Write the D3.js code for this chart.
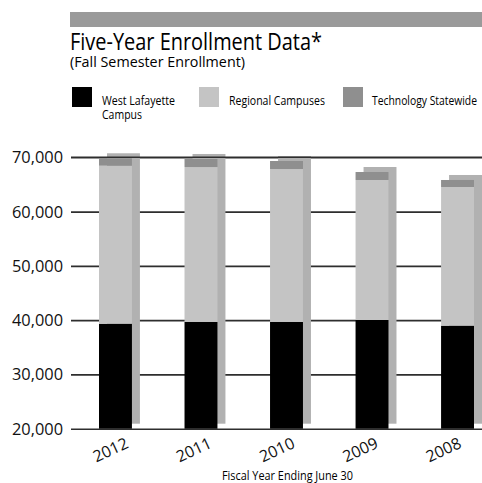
<!DOCTYPE html>
<html>
<head>
<meta charset="utf-8">
<script src="https://cdnjs.cloudflare.com/ajax/libs/d3/7.8.5/d3.min.js"></script>
<style>
  body { margin: 0; background: #fff; }
  svg { display: block; }
</style>
</head>
<body>
<div id="chart-area"></div>
<script>
// data (fall enrollment)
const years = ["2012", "2011", "2010", "2009", "2008"]
const westLafayette = [39340, 39660, 39660, 40030, 38980]
const regional = [29110, 28550, 28180, 25790, 25550]
const technology = [1370, 1480, 1480, 1470, 1290]
const seriesNames = ["West Lafayette Campus", "Regional Campuses", "Technology Statewide"]
const yTicks = [20000, 30000, 40000, 50000, 60000, 70000]

const W = 482, H = 483
const FONT = "'Open Sans', 'Noto Sans', sans-serif"
const colors = ["#000000", "#c4c4c4", "#8f8f8f"]
const SHADOW = "#b1b1b1"

const svg = d3.select("#chart-area").append("svg")
  .attr("width", W)
  .attr("height", H)
  .style("font-family", FONT)

// grey band on top
svg.append("rect")
  .attr("x", 70).attr("y", 12)
  .attr("width", W - 70).attr("height", 15)
  .attr("fill", "#9a9a9a")

// Title
svg.append("text")
  .attr("x", 70).attr("y", 49.5)
  .attr("font-size", "23px")
  .attr("textLength", 252)
  .attr("lengthAdjust", "spacingAndGlyphs")
  .text("Five-Year Enrollment Data*")

svg.append("text")
  .attr("x", 70).attr("y", 66.5)
  .attr("font-size", "15px")
  .attr("textLength", 175)
  .attr("lengthAdjust", "spacingAndGlyphs")
  .text("(Fall Semester Enrollment)")

// Legend
const legendPos = [
  { sx: 72, tx: 102, lines: ["West Lafayette", "Campus"], len: [73, 40] },
  { sx: 199, tx: 229, lines: ["Regional Campuses"], len: [96] },
  { sx: 343, tx: 372, lines: ["Technology Statewide"], len: [105] }
]
legendPos.forEach((p, i) => {
  svg.append("rect")
    .attr("x", p.sx).attr("y", 87)
    .attr("width", 20).attr("height", 20)
    .attr("fill", colors[i])
  p.lines.forEach((ln, j) => {
    svg.append("text")
      .attr("x", p.tx).attr("y", 105 + j * 13.5)
      .attr("font-size", "12.5px")
      .attr("textLength", p.len[j])
      .attr("lengthAdjust", "spacingAndGlyphs")
      .text(ln)
  })
})

// scales
const y = d3.scaleLinear()
  .domain([20000, 70000])
  .range([428.7, 157.3])
  .clamp(true)

const x = d3.scaleBand()
  .domain(years)
  .range([99, 474])
  .paddingInner(0.615)
  .paddingOuter(0)

const xLabel = d3.scalePoint()
  .domain(years)
  .range([110, 443])

const AXIS_X = 71

// gridlines + y labels
const yAxisGroup = svg.append("g")
  .attr("transform", `translate(${AXIS_X}, 0)`)
  .call(d3.axisLeft(y)
    .tickValues(yTicks)
    .tickSize(-(W - AXIS_X))
    .tickPadding(8)
    .tickFormat(d3.format(",")))
yAxisGroup.select(".domain").remove()
yAxisGroup.selectAll(".tick line")
  .attr("stroke", "#2e2e2e")
  .attr("stroke-width", 1.6)
yAxisGroup.selectAll(".tick text")
  .attr("font-family", FONT)
  .attr("font-size", "17px")
  .attr("textLength", 51)
  .attr("lengthAdjust", "spacingAndGlyphs")
  .attr("fill", "#111")

// stack
const table = years.map((yr, i) => ({
  year: yr,
  [seriesNames[0]]: westLafayette[i],
  [seriesNames[1]]: regional[i],
  [seriesNames[2]]: technology[i]
}))
const stacked = d3.stack().keys(seriesNames)(table)
const totals = stacked[stacked.length - 1]

// shadows behind the bars
svg.append("g").selectAll("rect")
  .data(totals)
  .enter().append("rect")
    .attr("x", d => x(d.data.year) + 8)
    .attr("y", d => y(d[1]) - 5)
    .attr("width", x.bandwidth())
    .attr("height", d => y(20000) - y(d[1]))
    .attr("fill", SHADOW)

// top gridline sits over the shadows
svg.append("line")
  .attr("x1", AXIS_X).attr("x2", W)
  .attr("y1", y(70000)).attr("y2", y(70000))
  .attr("stroke", "#2e2e2e")
  .attr("stroke-width", 1.6)

// bars
svg.append("g").selectAll("g")
  .data(stacked)
  .enter().append("g")
    .attr("fill", (d, i) => colors[i])
  .selectAll("rect")
  .data(d => d)
  .enter().append("rect")
    .attr("x", d => x(d.data.year))
    .attr("y", d => y(d[1]))
    .attr("width", x.bandwidth())
    .attr("height", d => y(d[0]) - y(d[1]))

// x labels
const xAxisGroup = svg.append("g")
  .attr("transform", `translate(0, ${y(20000)})`)
  .call(d3.axisBottom(xLabel).tickSize(0).tickPadding(0))
xAxisGroup.select(".domain").remove()
xAxisGroup.selectAll("text")
  .attr("y", 0)
  .attr("dy", "0.35em")
  .attr("text-anchor", "middle")
  .attr("transform", "translate(0, 21) rotate(-25)")
  .attr("font-family", FONT)
  .attr("font-size", "16px")
  .attr("fill", "#111")

svg.append("text")
  .attr("x", 222).attr("y", 480)
  .attr("font-size", "13px")
  .attr("textLength", 131)
  .attr("lengthAdjust", "spacingAndGlyphs")
  .text("Fiscal Year Ending June 30")
</script>
</body>
</html>
